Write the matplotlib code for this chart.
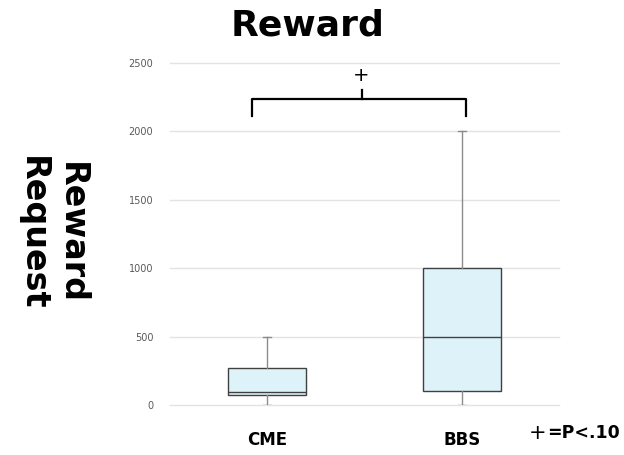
import matplotlib
matplotlib.use("Agg")
import matplotlib.pyplot as plt

# Reward request distribution per group
groups = ["CME", "BBS"]
whisker_low = [0, 0]
q1 = [70, 100]
median = [95, 500]
q3 = [270, 1000]
whisker_high = [500, 2000]

yticks = [0, 500, 1000, 1500, 2000, 2500]

stats = []
for i, g in enumerate(groups):
    stats.append({
        "label": g,
        "whislo": whisker_low[i],
        "q1": q1[i],
        "med": median[i],
        "q3": q3[i],
        "whishi": whisker_high[i],
        "fliers": [],
    })

fig = plt.figure(figsize=(6.24, 4.55), dpi=100)
ax = fig.add_axes([170 / 624, 1 - 405 / 455, 389 / 624, 342 / 455])

ax.bxp(stats, positions=[0.5, 1.5], widths=0.4, patch_artist=True,
       capwidths=0.04,
       boxprops=dict(facecolor="#def2f9", edgecolor="#404040", linewidth=1.0),
       medianprops=dict(color="#404040", linewidth=1.0),
       whiskerprops=dict(color="#8c8c8c", linewidth=1.0),
       capprops=dict(color="#8c8c8c", linewidth=1.0),
       zorder=3)

ax.set_xlim(0, 2)
ax.set_ylim(0, 2500)
ax.set_yticks(yticks)
ax.yaxis.grid(True, color="#e3e3e3", linewidth=1.0, zorder=0)
for gl in ax.get_ygridlines():
    gl.set_clip_on(False)
ax.set_axisbelow(True)
for s in ax.spines.values():
    s.set_visible(False)
ax.tick_params(axis="y", length=0, pad=12, labelsize=7, labelcolor="#595959")
ax.tick_params(axis="x", length=0, pad=19)
ax.set_xticks([0.5, 1.5])
ax.set_xticklabels(groups, fontsize=12, fontweight="heavy")

# significance bracket
bx0, bx1 = 0.42, 1.52
ytop, ybot = 2237, 2113
ax.plot([bx0, bx0, bx1, bx1], [ybot, ytop, ytop, ybot], color="black",
        linewidth=1.6, clip_on=False)
ax.plot([0.985, 0.985], [ytop, 2303], color="black", linewidth=1.6, clip_on=False)
ax.text(0.985, 2405, "+", ha="center", va="center", fontsize=14)

fig.text(308 / 624, 1 - 26 / 455, "Reward", ha="center", va="center",
         fontsize=26, fontweight="heavy")
fig.text(52 / 624, 1 - 233 / 455, "Reward\nRequest", ha="center", va="center",
         rotation=270, fontsize=24, fontweight="heavy", linespacing=1.25)
fig.text(538 / 624, 1 - 433 / 455, "+", ha="center", va="center", fontsize=15)
fig.text(547 / 624, 1 - 433 / 455, "=P<.10", ha="left", va="center",
         fontsize=12.5, fontweight="heavy")

fig.savefig("out.png", dpi=100)
